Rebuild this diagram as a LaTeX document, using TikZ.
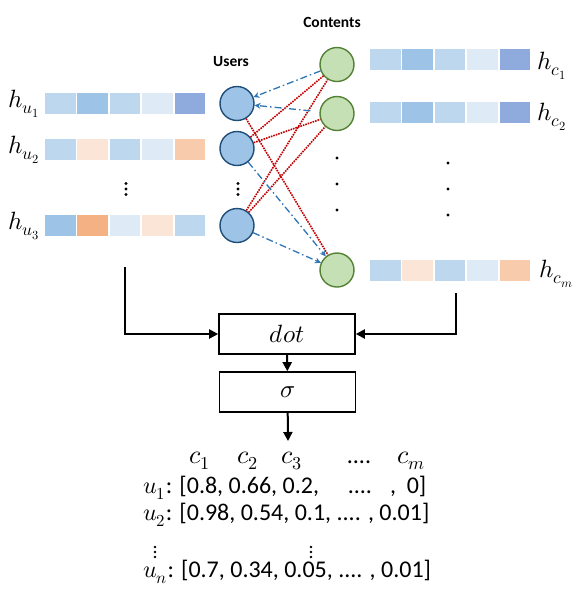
\documentclass[tikz,border=0pt]{standalone}
\usepackage{fontspec}
\usepackage{unicode-math}
\setmainfont{Carlito}
\setmathfont{Latin Modern Math}
\usetikzlibrary{arrows.meta}

\definecolor{lightblue}{HTML}{BDD7EE}
\definecolor{midblue}{HTML}{9DC3E6}
\definecolor{paleblue}{HTML}{DEEBF7}
\definecolor{deepblue}{HTML}{8FAADC}
\definecolor{paleorange}{HTML}{FBE5D6}
\definecolor{midorange}{HTML}{F8CBAD}
\definecolor{deeporange}{HTML}{F4B183}
\definecolor{userline}{HTML}{1F4E79}
\definecolor{contentfill}{HTML}{C5E0B4}
\definecolor{contentline}{HTML}{548235}
\definecolor{linkblue}{HTML}{2E75B6}
\definecolor{linkred}{HTML}{C00000}

% one embedding vector: five coloured cells starting at x, centred on y
\newcommand\cellrow[3]{%
  \foreach \cc [count=\i] in {#3}
    \fill[\cc] ({#1+(\i-1)*32.4}, {#2-10.5}) rectangle ++(30.5,21);}

\begin{document}
\begin{tikzpicture}[x=1pt, y=-1pt,
    user/.style={circle, draw=userline, fill=midblue, line width=1.4pt, minimum size=34pt, inner sep=0pt},
    content/.style={circle, draw=contentline, fill=contentfill, line width=1.4pt, minimum size=34pt, inner sep=0pt},
    like/.style={linkred, densely dotted, line width=1.6pt},
    rec/.style={linkblue, dash pattern=on 7pt off 3pt on 1.5pt off 3pt, line width=1.3pt, -{Stealth[length=6pt, width=6pt]}},
    block/.style={draw, line width=1.6pt, minimum width=136pt, minimum height=40pt},
    flow/.style={line width=2pt, -{Triangle[length=9pt, width=9pt]}},
    hlabel/.style={font=\fontsize{25}{28}\selectfont},
    head/.style={font=\bfseries\fontsize{15.5}{18}\selectfont}]
    \useasboundingbox (0,0) rectangle (587,606);
    % user vectors
    \cellrow{45}{103}{lightblue, midblue, lightblue, paleblue, deepblue}
    \cellrow{45}{149}{lightblue, paleorange, lightblue, paleblue, midorange}
    \cellrow{45}{225}{midblue, deeporange, paleblue, paleorange, lightblue}
    \node[hlabel] (hu1) at (24,104) {$h_{u_1}$};
    \node[hlabel] (hu2) at (24,150) {$h_{u_2}$};
    \node[hlabel] (hu3) at (24,226) {$h_{u_3}$};
    \foreach \y in {183.5, 189, 194.5} \fill (126,\y) circle (1.6);
    % content vectors
    \cellrow{370}{59.5}{lightblue, midblue, lightblue, paleblue, deepblue}
    \cellrow{370}{112.5}{lightblue, midblue, lightblue, paleblue, deepblue}
    \cellrow{370}{270.5}{lightblue, paleorange, lightblue, paleblue, midorange}
    \node[hlabel] (hc1) at (552,66) {$h_{c_1}$};
    \node[hlabel] (hc2) at (552,117) {$h_{c_2}$};
    \node[hlabel] (hcm) at (556,274) {$h_{c_m}$};
    \foreach \y in {163, 189, 215} \fill (448,\y) circle (1.6);
    % users
    \node[head] (users) at (231,62) {Users};
    \node[user] (u1) at (237,103.5) {};
    \node[user] (u2) at (237,148.5) {};
    \node[user] (u3) at (237,225.5) {};
    \foreach \y in {183.5, 189, 194.5} \fill (238,\y) circle (1.6);
    % contents
    \node[head] (contents) at (332,22) {Contents};
    \node[content] (c1) at (337,64.5) {};
    \node[content] (c2) at (337,113.5) {};
    \node[content] (cm) at (337,270) {};
    \foreach \y in {158, 184, 210} \fill (337,\y) circle (1.6);
    % links
    \draw[like] (u1) -- (cm);
    \draw[like] (u2) -- (c1);
    \draw[like] (u2) -- (c2);
    \draw[like] (u3) -- (c1);
    \draw[like] (u3) -- (c2);
    \draw[rec] (c1) -- (u1);
    \draw[rec, shorten <=9pt] (c2) -- (u1);
    \draw[rec] (u2) -- (cm);
    \draw[rec] (u3) -- (cm);
    % scoring
    \node[block, font=\fontsize{25}{28}\selectfont] (dot) at (287,334) {$dot$};
    \node[block, font=\fontsize{25}{28}\selectfont] (sigma) at (287.5,392) {$\sigma$};
    \coordinate (fromusers) at (125,267);
    \coordinate (fromcontents) at (456,293);
    \coordinate (out) at (288,441);
    \draw[flow] (fromusers) |- (dot.west);
    \draw[flow] (fromcontents) |- (dot.east);
    \draw[flow] (dot) -- (sigma);
    \draw[flow] (sigma) -- (out);
    % scores
    \begin{scope}[every node/.style={font=\fontsize{24}{26}\selectfont, inner sep=0pt}]
        \node[font=\fontsize{26}{28}\selectfont] (k1) at (200,461) {$c_1$};
        \node[font=\fontsize{26}{28}\selectfont] (k2) at (248,461) {$c_2$};
        \node[font=\fontsize{26}{28}\selectfont] (k3) at (292,461) {$c_3$};
        \node (k4) at (359,462) {....};
        \node[font=\fontsize{26}{28}\selectfont] (k5) at (411,461) {$c_m$};
        \node[anchor=west] (r1) at (143,488) {$u_1$: [0.8, 0.66, 0.2,\hspace{1.2em}....\hspace{0.75em},\hspace{0.45em}0]};
        \node[anchor=west] (r2) at (143,515) {$u_2$: [0.98, 0.54, 0.1, .... , 0.01]};
        \node[anchor=west] (rn) at (143,572) {$u_n$: [0.7, 0.34, 0.05, .... , 0.01]};
    \end{scope}
    \foreach \x in {155, 311}
        \foreach \y in {547, 552, 557} \fill (\x,\y) circle (1.3);
\end{tikzpicture}
\end{document}
